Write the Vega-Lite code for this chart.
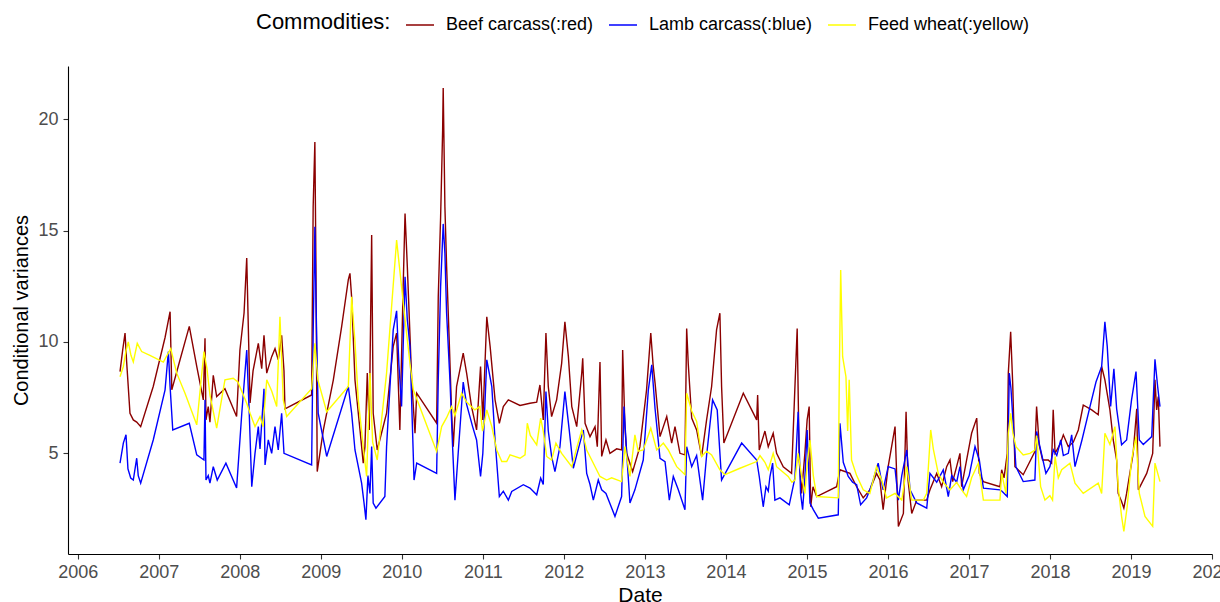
{
  "$schema": "https://vega.github.io/schema/vega-lite/v6.json",
  "width": 1144,
  "height": 488,
  "autosize": {"type": "none"},
  "padding": {"left": 68, "top": 66, "right": 8, "bottom": 48},
  "background": "white",
  "config": {
    "font": "Liberation Sans",
    "view": {"stroke": null},
    "axis": {"grid": false, "domainColor": "#000000", "domainWidth": 1.1, "tickColor": "#333333", "tickWidth": 1.1, "tickSize": 5, "labelFontSize": 18, "labelColor": "#4D4D4D", "titleFontSize": 20, "titleFontWeight": "normal", "titleColor": "#000000"}
  },
  "datasets": {
    "beef": [
      {"date":2006.522,"value":8.67},{"date":2006.555,"value":9.64},{"date":2006.584,"value":10.4},{"date":2006.604,"value":9.1},{"date":2006.645,"value":6.8},{"date":2006.686,"value":6.5},{"date":2006.728,"value":6.4},{"date":2006.777,"value":6.2},{"date":2006.932,"value":8.0},
      {"date":2007.078,"value":10.2},{"date":2007.140,"value":11.36},{"date":2007.161,"value":7.85},{"date":2007.263,"value":9.2},{"date":2007.377,"value":10.7},{"date":2007.469,"value":8.9},{"date":2007.550,"value":7.4},{"date":2007.571,"value":10.17},{"date":2007.583,"value":6.5},{"date":2007.611,"value":7.1},{"date":2007.632,"value":6.4},{"date":2007.673,"value":8.5},{"date":2007.715,"value":7.55},{"date":2007.817,"value":7.9},{"date":2007.961,"value":6.65},
      {"date":2008.002,"value":9.64},{"date":2008.053,"value":11.3},{"date":2008.086,"value":13.77},{"date":2008.127,"value":7.26},{"date":2008.164,"value":8.7},{"date":2008.229,"value":9.94},{"date":2008.271,"value":8.8},{"date":2008.299,"value":10.3},{"date":2008.333,"value":8.6},{"date":2008.394,"value":9.34},{"date":2008.435,"value":9.7},{"date":2008.475,"value":9.2},{"date":2008.517,"value":10.3},{"date":2008.546,"value":8.7},{"date":2008.558,"value":7.0},{"date":2008.887,"value":7.62},{"date":2008.906,"value":16.07},{"date":2008.927,"value":18.98},{"date":2008.940,"value":13.5},{"date":2008.956,"value":4.18},
      {"date":2009.032,"value":6.05},{"date":2009.155,"value":8.3},{"date":2009.258,"value":10.7},{"date":2009.340,"value":12.8},{"date":2009.360,"value":13.08},{"date":2009.381,"value":12.0},{"date":2009.422,"value":8.3},{"date":2009.484,"value":6.05},{"date":2009.524,"value":4.56},{"date":2009.545,"value":5.3},{"date":2009.574,"value":8.6},{"date":2009.598,"value":6.05},{"date":2009.628,"value":14.8},{"date":2009.647,"value":6.8},{"date":2009.697,"value":5.15},{"date":2009.812,"value":6.8},{"date":2009.894,"value":9.8},{"date":2009.936,"value":10.4},{"date":2009.976,"value":6.05},
      {"date":2010.017,"value":12.5},{"date":2010.040,"value":15.77},{"date":2010.068,"value":13.4},{"date":2010.122,"value":8.3},{"date":2010.163,"value":5.9},{"date":2010.184,"value":7.7},{"date":2010.430,"value":6.35},{"date":2010.450,"value":12.03},{"date":2010.479,"value":15.6},{"date":2010.504,"value":19.5},{"date":2010.511,"value":21.4},{"date":2010.532,"value":16.07},{"date":2010.553,"value":13.4},{"date":2010.585,"value":10.1},{"date":2010.615,"value":6.8},{"date":2010.635,"value":5.3},{"date":2010.676,"value":8.0},{"date":2010.758,"value":9.5},{"date":2010.800,"value":8.6},{"date":2010.861,"value":7.1},{"date":2010.923,"value":6.05},{"date":2010.972,"value":8.9},
      {"date":2011.000,"value":6.5},{"date":2011.049,"value":11.13},{"date":2011.090,"value":9.8},{"date":2011.151,"value":7.4},{"date":2011.204,"value":6.35},{"date":2011.253,"value":7.1},{"date":2011.315,"value":7.4},{"date":2011.459,"value":7.15},{"date":2011.582,"value":7.25},{"date":2011.665,"value":7.3},{"date":2011.705,"value":8.07},{"date":2011.746,"value":6.5},{"date":2011.779,"value":10.4},{"date":2011.808,"value":8.0},{"date":2011.849,"value":6.65},{"date":2011.911,"value":7.4},{"date":2011.973,"value":9.04},
      {"date":2012.013,"value":10.9},{"date":2012.056,"value":9.34},{"date":2012.098,"value":7.1},{"date":2012.159,"value":6.2},{"date":2012.221,"value":8.6},{"date":2012.233,"value":9.27},{"date":2012.262,"value":6.35},{"date":2012.323,"value":5.75},{"date":2012.385,"value":6.2},{"date":2012.413,"value":5.3},{"date":2012.446,"value":9.1},{"date":2012.467,"value":4.86},{"date":2012.520,"value":5.6},{"date":2012.569,"value":5.0},{"date":2012.652,"value":5.2},{"date":2012.713,"value":5.15},{"date":2012.726,"value":9.64},{"date":2012.754,"value":6.2},{"date":2012.775,"value":5.0},{"date":2012.849,"value":4.18},{"date":2012.939,"value":5.3},
      {"date":2013.021,"value":7.85},{"date":2013.073,"value":10.4},{"date":2013.101,"value":9.0},{"date":2013.126,"value":8.15},{"date":2013.187,"value":5.75},{"date":2013.270,"value":6.65},{"date":2013.331,"value":5.46},{"date":2013.372,"value":6.2},{"date":2013.433,"value":5.0},{"date":2013.495,"value":4.93},{"date":2013.516,"value":10.6},{"date":2013.536,"value":9.0},{"date":2013.578,"value":6.58},{"date":2013.639,"value":6.05},{"date":2013.701,"value":4.86},{"date":2013.762,"value":6.5},{"date":2013.824,"value":8.0},{"date":2013.885,"value":10.54},{"date":2013.926,"value":11.29},{"date":2013.947,"value":8.0},{"date":2013.975,"value":5.46},
      {"date":2014.215,"value":7.7},{"date":2014.380,"value":6.5},{"date":2014.392,"value":7.62},{"date":2014.412,"value":5.15},{"date":2014.482,"value":6.0},{"date":2014.523,"value":5.3},{"date":2014.584,"value":5.9},{"date":2014.626,"value":5.0},{"date":2014.708,"value":4.4},{"date":2014.811,"value":4.1},{"date":2014.880,"value":10.6},{"date":2014.905,"value":4.7},{"date":2014.934,"value":3.2},{"date":2014.975,"value":5.0},
      {"date":2015.003,"value":6.5},{"date":2015.028,"value":7.1},{"date":2015.047,"value":2.6},{"date":2015.075,"value":3.5},{"date":2015.121,"value":3.06},{"date":2015.367,"value":3.5},{"date":2015.408,"value":4.26},{"date":2015.531,"value":4.1},{"date":2015.614,"value":3.5},{"date":2015.695,"value":3.0},{"date":2015.777,"value":3.36},{"date":2015.860,"value":4.1},{"date":2015.901,"value":3.8},{"date":2015.941,"value":2.47},
      {"date":2016.003,"value":4.4},{"date":2016.088,"value":6.2},{"date":2016.129,"value":1.72},{"date":2016.191,"value":2.3},{"date":2016.224,"value":6.87},{"date":2016.248,"value":3.8},{"date":2016.294,"value":2.3},{"date":2016.356,"value":2.9},{"date":2016.479,"value":2.9},{"date":2016.519,"value":3.36},{"date":2016.602,"value":4.1},{"date":2016.663,"value":3.5},{"date":2016.725,"value":4.4},{"date":2016.766,"value":4.7},{"date":2016.799,"value":3.73},{"date":2016.848,"value":4.4},{"date":2016.889,"value":5.0},{"date":2016.910,"value":3.5},{"date":2016.971,"value":4.7},
      {"date":2017.033,"value":5.9},{"date":2017.096,"value":6.58},{"date":2017.128,"value":4.1},{"date":2017.178,"value":3.73},{"date":2017.383,"value":3.5},{"date":2017.404,"value":4.26},{"date":2017.433,"value":3.9},{"date":2017.473,"value":5.0},{"date":2017.486,"value":8.6},{"date":2017.515,"value":10.46},{"date":2017.540,"value":8.15},{"date":2017.568,"value":4.4},{"date":2017.670,"value":4.04},{"date":2017.814,"value":5.08},{"date":2017.835,"value":7.1},{"date":2017.867,"value":5.38},{"date":2017.909,"value":4.7},{"date":2017.978,"value":4.7},
      {"date":2018.020,"value":4.56},{"date":2018.040,"value":6.95},{"date":2018.063,"value":5.0},{"date":2018.124,"value":5.4},{"date":2018.165,"value":5.83},{"date":2018.226,"value":5.3},{"date":2018.288,"value":5.5},{"date":2018.350,"value":6.05},{"date":2018.411,"value":7.17},{"date":2018.515,"value":6.95},{"date":2018.596,"value":6.73},{"date":2018.638,"value":8.9},{"date":2018.678,"value":8.3},{"date":2018.740,"value":6.95},{"date":2018.781,"value":5.6},{"date":2018.823,"value":4.7},{"date":2018.842,"value":3.2},{"date":2018.884,"value":2.84},{"date":2018.912,"value":2.54},{"date":2018.946,"value":3.2},{"date":2018.986,"value":4.1},
      {"date":2019.027,"value":5.0},{"date":2019.071,"value":7.0},{"date":2019.091,"value":3.36},{"date":2019.133,"value":3.66},{"date":2019.194,"value":4.1},{"date":2019.268,"value":5.0},{"date":2019.296,"value":8.3},{"date":2019.317,"value":6.95},{"date":2019.337,"value":7.55},{"date":2019.358,"value":5.3}
    ],
    "lamb": [
      {"date":2006.522,"value":4.56},{"date":2006.563,"value":5.46},{"date":2006.596,"value":5.83},{"date":2006.620,"value":4.3},{"date":2006.654,"value":3.89},{"date":2006.686,"value":3.8},{"date":2006.728,"value":4.78},{"date":2006.747,"value":4.0},{"date":2006.777,"value":3.66},{"date":2006.932,"value":5.6},
      {"date":2007.078,"value":7.85},{"date":2007.119,"value":9.57},{"date":2007.140,"value":8.0},{"date":2007.173,"value":6.05},{"date":2007.377,"value":6.35},{"date":2007.469,"value":4.93},{"date":2007.558,"value":4.7},{"date":2007.571,"value":7.4},{"date":2007.583,"value":3.8},{"date":2007.611,"value":4.0},{"date":2007.632,"value":3.66},{"date":2007.673,"value":4.4},{"date":2007.722,"value":3.8},{"date":2007.829,"value":4.56},{"date":2007.961,"value":3.44},
      {"date":2008.025,"value":6.8},{"date":2008.086,"value":9.64},{"date":2008.115,"value":7.0},{"date":2008.148,"value":3.5},{"date":2008.188,"value":5.0},{"date":2008.229,"value":6.2},{"date":2008.250,"value":5.2},{"date":2008.299,"value":7.9},{"date":2008.312,"value":4.48},{"date":2008.352,"value":5.6},{"date":2008.394,"value":5.0},{"date":2008.435,"value":6.2},{"date":2008.475,"value":5.15},{"date":2008.517,"value":6.8},{"date":2008.546,"value":5.0},{"date":2008.887,"value":4.48},{"date":2008.906,"value":10.4},{"date":2008.927,"value":15.17},{"date":2008.940,"value":12.0},{"date":2008.968,"value":6.8},
      {"date":2009.073,"value":4.86},{"date":2009.340,"value":8.0},{"date":2009.381,"value":6.8},{"date":2009.422,"value":5.15},{"date":2009.504,"value":3.66},{"date":2009.533,"value":2.8},{"date":2009.557,"value":2.02},{"date":2009.582,"value":4.0},{"date":2009.607,"value":3.2},{"date":2009.628,"value":5.3},{"date":2009.647,"value":2.77},{"date":2009.681,"value":2.54},{"date":2009.791,"value":3.06},{"date":2009.812,"value":5.3},{"date":2009.894,"value":10.54},{"date":2009.936,"value":11.4},{"date":2009.964,"value":9.0},{"date":2009.997,"value":7.1},
      {"date":2010.040,"value":12.93},{"date":2010.068,"value":11.0},{"date":2010.101,"value":9.8},{"date":2010.151,"value":3.8},{"date":2010.184,"value":4.56},{"date":2010.430,"value":4.1},{"date":2010.450,"value":8.3},{"date":2010.479,"value":12.48},{"date":2010.511,"value":15.3},{"date":2010.532,"value":13.98},{"date":2010.553,"value":11.29},{"date":2010.594,"value":8.3},{"date":2010.627,"value":5.3},{"date":2010.656,"value":2.9},{"date":2010.696,"value":5.0},{"date":2010.758,"value":8.2},{"date":2010.800,"value":7.2},{"date":2010.874,"value":6.2},{"date":2010.923,"value":5.6},{"date":2010.972,"value":3.96},
      {"date":2011.000,"value":5.0},{"date":2011.049,"value":9.2},{"date":2011.111,"value":8.0},{"date":2011.151,"value":5.6},{"date":2011.204,"value":3.06},{"date":2011.253,"value":3.3},{"date":2011.315,"value":2.9},{"date":2011.357,"value":3.29},{"date":2011.500,"value":3.59},{"date":2011.582,"value":3.44},{"date":2011.665,"value":3.14},{"date":2011.714,"value":3.89},{"date":2011.746,"value":3.6},{"date":2011.779,"value":7.77},{"date":2011.808,"value":6.0},{"date":2011.849,"value":4.86},{"date":2011.890,"value":4.18},{"date":2011.952,"value":5.3},
      {"date":2012.013,"value":7.77},{"date":2012.068,"value":6.0},{"date":2012.117,"value":4.33},{"date":2012.179,"value":5.2},{"date":2012.241,"value":6.05},{"date":2012.282,"value":4.1},{"date":2012.323,"value":3.6},{"date":2012.364,"value":2.9},{"date":2012.425,"value":3.8},{"date":2012.467,"value":3.36},{"date":2012.520,"value":3.2},{"date":2012.631,"value":2.17},{"date":2012.713,"value":3.06},{"date":2012.742,"value":7.1},{"date":2012.783,"value":4.6},{"date":2012.816,"value":2.77},{"date":2012.877,"value":3.36},{"date":2012.980,"value":4.7},
      {"date":2013.043,"value":7.85},{"date":2013.085,"value":8.97},{"date":2013.126,"value":7.0},{"date":2013.187,"value":4.78},{"date":2013.249,"value":4.63},{"date":2013.302,"value":2.9},{"date":2013.351,"value":3.96},{"date":2013.413,"value":3.36},{"date":2013.495,"value":2.47},{"date":2013.516,"value":5.3},{"date":2013.578,"value":4.4},{"date":2013.639,"value":4.9},{"date":2013.713,"value":2.9},{"date":2013.762,"value":4.9},{"date":2013.836,"value":7.4},{"date":2013.893,"value":6.95},{"date":2013.947,"value":3.8},
      {"date":2014.195,"value":5.46},{"date":2014.380,"value":4.7},{"date":2014.412,"value":3.96},{"date":2014.461,"value":2.6},{"date":2014.495,"value":3.5},{"date":2014.523,"value":3.3},{"date":2014.544,"value":3.96},{"date":2014.577,"value":4.56},{"date":2014.605,"value":2.9},{"date":2014.667,"value":3.0},{"date":2014.782,"value":2.69},{"date":2014.852,"value":3.9},{"date":2014.892,"value":6.87},{"date":2014.922,"value":3.2},{"date":2014.947,"value":2.47},{"date":2014.975,"value":3.9},
      {"date":2015.003,"value":6.05},{"date":2015.038,"value":2.77},{"date":2015.079,"value":2.47},{"date":2015.141,"value":2.09},{"date":2015.387,"value":2.24},{"date":2015.408,"value":6.35},{"date":2015.449,"value":4.6},{"date":2015.510,"value":3.96},{"date":2015.564,"value":3.7},{"date":2015.614,"value":3.59},{"date":2015.663,"value":2.69},{"date":2015.737,"value":3.0},{"date":2015.777,"value":3.36},{"date":2015.818,"value":3.8},{"date":2015.880,"value":4.56},{"date":2015.941,"value":3.36},
      {"date":2016.003,"value":4.4},{"date":2016.088,"value":4.3},{"date":2016.129,"value":2.9},{"date":2016.171,"value":4.0},{"date":2016.233,"value":5.15},{"date":2016.273,"value":3.36},{"date":2016.356,"value":2.77},{"date":2016.479,"value":2.54},{"date":2016.519,"value":4.1},{"date":2016.602,"value":3.7},{"date":2016.683,"value":4.26},{"date":2016.745,"value":3.06},{"date":2016.787,"value":4.0},{"date":2016.848,"value":3.7},{"date":2016.889,"value":4.4},{"date":2016.930,"value":3.36},
      {"date":2017.003,"value":4.0},{"date":2017.075,"value":5.3},{"date":2017.128,"value":4.7},{"date":2017.178,"value":3.44},{"date":2017.383,"value":3.36},{"date":2017.408,"value":3.3},{"date":2017.473,"value":3.06},{"date":2017.498,"value":8.6},{"date":2017.519,"value":7.9},{"date":2017.556,"value":5.75},{"date":2017.580,"value":4.4},{"date":2017.670,"value":3.73},{"date":2017.814,"value":3.8},{"date":2017.835,"value":5.98},{"date":2017.876,"value":5.3},{"date":2017.950,"value":4.1},{"date":2017.999,"value":4.4},
      {"date":2018.042,"value":5.15},{"date":2018.084,"value":4.9},{"date":2018.133,"value":5.6},{"date":2018.165,"value":4.9},{"date":2018.226,"value":5.0},{"date":2018.268,"value":5.83},{"date":2018.309,"value":4.4},{"date":2018.395,"value":5.6},{"date":2018.494,"value":7.1},{"date":2018.568,"value":8.2},{"date":2018.638,"value":8.9},{"date":2018.678,"value":10.9},{"date":2018.707,"value":9.8},{"date":2018.749,"value":7.1},{"date":2018.789,"value":8.8},{"date":2018.823,"value":7.0},{"date":2018.884,"value":5.38},{"date":2018.946,"value":5.6},
      {"date":2019.007,"value":7.4},{"date":2019.062,"value":8.67},{"date":2019.103,"value":5.6},{"date":2019.152,"value":5.4},{"date":2019.256,"value":5.75},{"date":2019.296,"value":9.22},{"date":2019.329,"value":8.0},{"date":2019.358,"value":7.1}
    ],
    "wheat": [
      {"date":2006.522,"value":8.44},{"date":2006.563,"value":8.9},{"date":2006.596,"value":9.6},{"date":2006.624,"value":10.0},{"date":2006.657,"value":9.4},{"date":2006.686,"value":9.1},{"date":2006.735,"value":9.94},{"date":2006.789,"value":9.57},{"date":2006.891,"value":9.4},
      {"date":2007.057,"value":9.1},{"date":2007.148,"value":9.7},{"date":2007.222,"value":8.6},{"date":2007.324,"value":7.7},{"date":2007.469,"value":6.28},{"date":2007.558,"value":9.57},{"date":2007.595,"value":8.8},{"date":2007.632,"value":7.62},{"date":2007.715,"value":6.13},{"date":2007.817,"value":8.3},{"date":2007.919,"value":8.37},{"date":2007.977,"value":8.2},
      {"date":2008.086,"value":7.25},{"date":2008.127,"value":6.8},{"date":2008.188,"value":6.2},{"date":2008.250,"value":6.65},{"date":2008.287,"value":6.2},{"date":2008.333,"value":8.3},{"date":2008.394,"value":7.8},{"date":2008.456,"value":7.1},{"date":2008.496,"value":11.13},{"date":2008.537,"value":7.4},{"date":2008.579,"value":6.65},{"date":2008.887,"value":7.9},{"date":2008.927,"value":9.94},{"date":2008.964,"value":8.3},
      {"date":2009.073,"value":6.87},{"date":2009.340,"value":8.0},{"date":2009.381,"value":12.03},{"date":2009.422,"value":10.0},{"date":2009.463,"value":7.4},{"date":2009.533,"value":5.0},{"date":2009.566,"value":3.96},{"date":2009.607,"value":8.6},{"date":2009.640,"value":5.5},{"date":2009.697,"value":4.7},{"date":2009.812,"value":8.6},{"date":2009.936,"value":14.57},{"date":2009.997,"value":12.48},
      {"date":2010.040,"value":11.0},{"date":2010.101,"value":9.04},{"date":2010.142,"value":7.85},{"date":2010.430,"value":5.08},{"date":2010.492,"value":6.2},{"date":2010.553,"value":6.6},{"date":2010.615,"value":7.1},{"date":2010.656,"value":6.7},{"date":2010.738,"value":7.7},{"date":2010.800,"value":7.3},{"date":2010.902,"value":6.95},{"date":2010.963,"value":7.1},{"date":2010.997,"value":6.0},
      {"date":2011.049,"value":6.95},{"date":2011.111,"value":6.2},{"date":2011.172,"value":5.15},{"date":2011.234,"value":4.63},{"date":2011.295,"value":4.63},{"date":2011.336,"value":4.93},{"date":2011.459,"value":4.78},{"date":2011.521,"value":4.93},{"date":2011.549,"value":6.35},{"date":2011.586,"value":5.8},{"date":2011.665,"value":5.38},{"date":2011.714,"value":6.58},{"date":2011.746,"value":6.0},{"date":2011.788,"value":4.86},{"date":2011.849,"value":4.7},{"date":2011.902,"value":5.46},{"date":2011.973,"value":5.0},
      {"date":2012.098,"value":4.4},{"date":2012.179,"value":5.5},{"date":2012.221,"value":6.05},{"date":2012.282,"value":5.15},{"date":2012.344,"value":4.7},{"date":2012.446,"value":3.96},{"date":2012.529,"value":3.8},{"date":2012.590,"value":3.9},{"date":2012.713,"value":3.73},{"date":2012.754,"value":5.3},{"date":2012.816,"value":3.96},{"date":2012.877,"value":5.83},{"date":2012.918,"value":5.1},{"date":2012.980,"value":5.15},
      {"date":2013.073,"value":6.13},{"date":2013.146,"value":5.15},{"date":2013.228,"value":5.46},{"date":2013.289,"value":5.15},{"date":2013.393,"value":4.4},{"date":2013.495,"value":4.04},{"date":2013.516,"value":7.7},{"date":2013.578,"value":6.9},{"date":2013.639,"value":6.43},{"date":2013.701,"value":4.86},{"date":2013.762,"value":5.1},{"date":2013.824,"value":4.93},{"date":2013.926,"value":4.26},{"date":2013.988,"value":4.04},
      {"date":2014.174,"value":4.33},{"date":2014.380,"value":4.63},{"date":2014.421,"value":4.9},{"date":2014.482,"value":4.6},{"date":2014.523,"value":4.26},{"date":2014.584,"value":5.0},{"date":2014.626,"value":4.4},{"date":2014.769,"value":3.96},{"date":2014.815,"value":3.7},{"date":2014.852,"value":3.8},{"date":2014.892,"value":5.0},{"date":2014.934,"value":4.0},{"date":2014.975,"value":3.2},
      {"date":2015.003,"value":4.5},{"date":2015.038,"value":5.6},{"date":2015.079,"value":4.0},{"date":2015.121,"value":3.06},{"date":2015.387,"value":3.0},{"date":2015.399,"value":8.15},{"date":2015.417,"value":13.23},{"date":2015.441,"value":9.34},{"date":2015.482,"value":8.44},{"date":2015.503,"value":6.0},{"date":2015.522,"value":8.3},{"date":2015.551,"value":4.7},{"date":2015.614,"value":4.0},{"date":2015.695,"value":3.36},{"date":2015.777,"value":3.2},{"date":2015.860,"value":4.4},{"date":2015.922,"value":3.8},{"date":2015.983,"value":3.0},
      {"date":2016.088,"value":3.2},{"date":2016.171,"value":2.9},{"date":2016.233,"value":4.4},{"date":2016.294,"value":2.9},{"date":2016.437,"value":2.9},{"date":2016.479,"value":3.2},{"date":2016.528,"value":6.05},{"date":2016.560,"value":5.2},{"date":2016.621,"value":4.1},{"date":2016.683,"value":3.7},{"date":2016.766,"value":3.36},{"date":2016.848,"value":3.7},{"date":2016.910,"value":3.36},{"date":2016.971,"value":3.06},
      {"date":2017.033,"value":3.9},{"date":2017.116,"value":4.56},{"date":2017.178,"value":2.9},{"date":2017.383,"value":2.9},{"date":2017.404,"value":4.1},{"date":2017.457,"value":3.2},{"date":2017.486,"value":5.9},{"date":2017.515,"value":6.8},{"date":2017.543,"value":5.9},{"date":2017.580,"value":5.3},{"date":2017.670,"value":4.93},{"date":2017.753,"value":5.0},{"date":2017.814,"value":5.15},{"date":2017.835,"value":5.8},{"date":2017.885,"value":3.5},{"date":2017.938,"value":2.9},{"date":2017.999,"value":3.1},
      {"date":2018.032,"value":2.9},{"date":2018.063,"value":4.86},{"date":2018.103,"value":3.9},{"date":2018.145,"value":4.26},{"date":2018.247,"value":4.56},{"date":2018.309,"value":3.66},{"date":2018.411,"value":3.2},{"date":2018.596,"value":3.66},{"date":2018.638,"value":3.2},{"date":2018.678,"value":5.9},{"date":2018.740,"value":5.4},{"date":2018.802,"value":6.2},{"date":2018.842,"value":3.5},{"date":2018.884,"value":2.17},{"date":2018.912,"value":1.5},{"date":2018.953,"value":2.6},
      {"date":2019.007,"value":4.7},{"date":2019.062,"value":5.75},{"date":2019.103,"value":3.2},{"date":2019.173,"value":2.17},{"date":2019.268,"value":1.72},{"date":2019.296,"value":4.56},{"date":2019.358,"value":3.73}
    ]
  },
  "encoding": {
    "x": {"field": "date", "type": "quantitative", "title": "Date",
      "scale": {"domain": [2005.88, 2020.0], "nice": false, "zero": false},
      "axis": {"values": [2006,2007,2008,2009,2010,2011,2012,2013,2014,2015,2016,2017,2018,2019,2020], "format": "d", "labelPadding": 4, "titlePadding": 3, "titleFontSize": 21, "labelFlush": false, "labelOverlap": false}},
    "y": {"field": "value", "type": "quantitative", "title": "Conditional variances",
      "scale": {"domain": [0.48, 22.39], "nice": false, "zero": false},
      "axis": {"values": [5, 10, 15, 20], "labelPadding": 5, "titlePadding": 6}}
  },
  "layer": [
    {"data": {"name": "beef"}, "mark": {"type": "line", "strokeWidth": 1.4},
     "encoding": {"color": {"datum": "Beef carcass(:red)", "type": "nominal",
       "scale": {"domain": ["Beef carcass(:red)", "Lamb carcass(:blue)", "Feed wheat(:yellow)"], "range": ["#8B0000", "#0000FF", "#FFFF00"]},
       "legend": {"orient": "none", "direction": "horizontal", "legendX": 188, "legendY": -56, "title": "Commodities:", "titleOrient": "left", "titleFontSize": 22, "titleFontWeight": "normal", "titleColor": "#000000", "titlePadding": 14, "titleLimit": 0, "labelFontSize": 18, "labelColor": "#000000", "labelLimit": 0, "symbolType": "stroke", "symbolSize": 784, "symbolStrokeWidth": 1.5, "labelOffset": 11, "columnPadding": 12}}}},
    {"data": {"name": "lamb"}, "mark": {"type": "line", "strokeWidth": 1.4},
     "encoding": {"color": {"datum": "Lamb carcass(:blue)", "type": "nominal"}}},
    {"data": {"name": "wheat"}, "mark": {"type": "line", "strokeWidth": 1.4},
     "encoding": {"color": {"datum": "Feed wheat(:yellow)", "type": "nominal"}}}
  ]
}
